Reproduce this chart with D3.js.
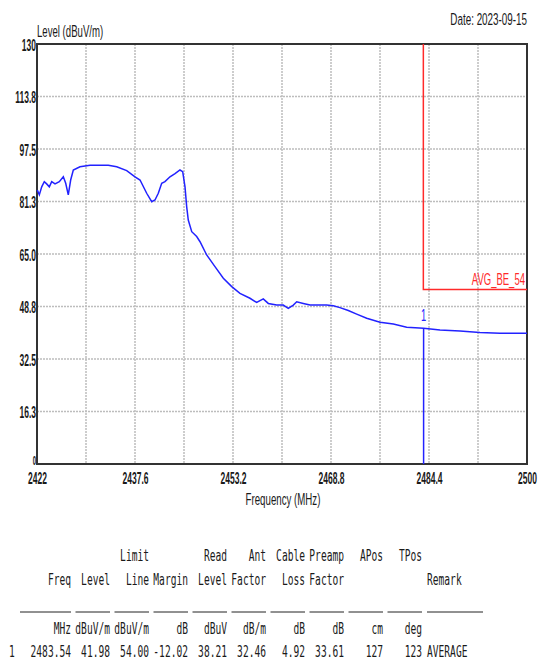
<!DOCTYPE html>
<html lang="en">
<head>
<meta charset="UTF-8">
<title>Level vs Frequency</title>
<script src="https://d3js.org/d3.v7.min.js"></script>
<style>
body { margin: 0; background: #fff; }
svg { display: block; }
.grid line { stroke: #bdbdbd; stroke-width: 1.5; stroke-dasharray: 2,1; }
.axis path, .axis line { display: none; }
.axis text { font-family: "Liberation Sans", Arial, sans-serif; font-weight: bold; font-size: 17px; fill: #1a1a1a; }
.lbl { font-family: "Liberation Sans", Arial, sans-serif; font-size: 17px; fill: #1a1a1a; }
.tbl { font-family: "DejaVu Sans Mono", monospace; font-size: 16px; fill: #1a1a1a; }
</style>
</head>
<body>
<svg width="541" height="664"></svg>
<script>
// trace
const freq = [2422.05, 2422.37, 2422.75, 2423.16, 2423.54, 2423.96, 2424.34, 2424.87, 2425.55, 2426.19,
  2426.57, 2426.98, 2427.36, 2427.78, 2428.84, 2430.44, 2432.03, 2433.35, 2434.69, 2436.28,
  2437.6, 2438.4, 2439.46, 2440.26, 2440.78, 2441.31, 2441.85, 2442.37, 2443.17, 2443.97,
  2444.76, 2445.19, 2445.56, 2445.83, 2446.08, 2446.63, 2447.42, 2447.95, 2449.01, 2450.33,
  2451.66, 2453.0, 2454.31, 2455.9, 2456.97, 2458.02, 2458.82, 2460.15, 2461.2, 2462.0,
  2462.8, 2463.34, 2464.39, 2465.46, 2467.05, 2468.1, 2469.17, 2470.23, 2471.55, 2472.89,
  2474.48, 2476.6, 2478.72, 2480.85, 2483.54, 2486.15, 2489.33, 2492.5, 2495.7, 2500];
const level = [84.8, 83.3, 85.8, 87.4, 86.7, 85.8, 87.4, 86.7, 87.4, 88.9,
  86.9, 83.3, 87.9, 91.0, 92.0, 92.5, 92.5, 92.5, 92.0, 90.8,
  88.9, 87.9, 83.8, 81.2, 81.7, 83.8, 86.9, 87.4, 88.9, 89.9,
  91.0, 90.5, 85.8, 79.6, 75.5, 71.9, 70.4, 68.8, 64.7, 61.1,
  57.5, 54.9, 52.8, 51.3, 50.0, 51.1, 49.7, 49.2, 49.2, 48.2,
  49.2, 50.2, 49.7, 49.2, 49.2, 49.2, 49.0, 48.4, 47.5, 46.4,
  45.1, 43.9, 43.3, 42.3, 41.98, 41.5, 41.2, 40.7, 40.5, 40.5];

// limit line AVG_BE_54
const limitFreq = [2483.5, 2483.5, 2500];
const limitLevel = [130, 54, 54];

const marker = { freq: 2483.54, level: 41.98, label: "1" };

const yTicks = [0, 16.25, 32.5, 48.75, 65, 81.25, 97.5, 113.75, 130];
const yTickLabels = ["0", "16.3", "32.5", "48.8", "65.0", "81.3", "97.5", "113.8", "130"];
const xTicks = [2422, 2437.6, 2453.2, 2468.8, 2484.4, 2500];
const xTickLabels = ["2422", "2437.6", "2453.2", "2468.8", "2484.4", "2500"];

// result table
const head1 = ["", "Limit", "", "Read", "Ant", "Cable", "Preamp", "APos", "TPos"];
const head2 = ["Freq", "Level", "Line", "Margin", "Level", "Factor", "Loss", "Factor", "", ""];
const units = ["MHz", "dBuV/m", "dBuV/m", "dB", "dBuV", "dB/m", "dB", "dB", "cm", "deg"];
const row1 = ["2483.54", "41.98", "54.00", "-12.02", "38.21", "32.46", "4.92", "33.61", "127", "123"];
const remarkHead = "Remark";
const remark1 = "AVERAGE";

const svg = d3.select("svg");
const pl = 37, pr = 527, pt = 44, pb = 464;

const x = d3.scaleLinear().domain([2422, 2500]).range([pl, pr]);
const y = d3.scaleLinear().domain([0, 130]).range([pb, pt]);

// grid
const grid = svg.append("g").attr("class", "grid");
grid.selectAll(".v").data(d3.range(1, 10).map(i => 2422 + i * 7.8)).enter()
  .append("line")
  .attr("x1", d => x(d)).attr("x2", d => x(d))
  .attr("y1", pt).attr("y2", pb);
grid.selectAll(".h").data(yTicks.slice(1, -1)).enter()
  .append("line")
  .attr("x1", pl).attr("x2", pr)
  .attr("y1", d => y(d)).attr("y2", d => y(d));

// axes
const ya = svg.append("g").attr("class", "axis")
  .attr("transform", `translate(${pl},0)`)
  .call(d3.axisLeft(y).tickValues(yTicks).tickFormat((d, i) => yTickLabels[i]).tickSize(0));
ya.selectAll("text").attr("x", 0).attr("dy", "0.36em")
  .attr("transform", "translate(-1,0) scale(0.5,1)");
// the "0" sits low and small, just above the x labels
ya.selectAll("text").filter((d, i) => i === 0)
  .style("font-size", "12px").attr("dy", "0.05em");

const xa = svg.append("g").attr("class", "axis")
  .attr("transform", `translate(0,${pb})`)
  .call(d3.axisBottom(x).tickValues(xTicks).tickFormat((d, i) => xTickLabels[i]).tickSize(0));
xa.selectAll(".tick text").attr("y", 0).attr("dy", "1.15em")
  .attr("transform", "scale(0.5,1)");

// frame
svg.append("rect")
  .attr("x", pl).attr("y", pt)
  .attr("width", pr - pl).attr("height", pb - pt)
  .attr("fill", "none").attr("stroke", "#333").attr("stroke-width", 2);

// limit line
const limitLine = d3.line().x(d => x(d[0])).y(d => y(d[1]));
svg.append("path")
  .datum(limitFreq.map((f, i) => [f, limitLevel[i]]))
  .attr("d", limitLine)
  .attr("fill", "none").attr("stroke", "#ff2a2a").attr("stroke-width", 1.5);
svg.append("text")
  .attr("class", "lbl")
  .attr("transform", `translate(${pr - 2},${y(54) - 5}) scale(0.56,1)`)
  .attr("text-anchor", "end").style("fill", "#ff2a2a")
  .text("AVG_BE_54");

// trace
const line = d3.line().x(d => x(d[0])).y(d => y(d[1]));
svg.append("path")
  .datum(freq.map((f, i) => [f, level[i]]))
  .attr("d", line)
  .attr("fill", "none").attr("stroke", "#2222ff").attr("stroke-width", 1.5);

// marker
svg.append("line")
  .attr("x1", x(marker.freq)).attr("x2", x(marker.freq))
  .attr("y1", y(marker.level)).attr("y2", pb)
  .attr("stroke", "#2222ff").attr("stroke-width", 1.5);
svg.append("text")
  .attr("class", "lbl")
  .attr("transform", `translate(${x(marker.freq)},${y(marker.level) - 7}) scale(0.55,1)`)
  .attr("text-anchor", "middle").style("fill", "#2222ff")
  .text(marker.label);

// titles
svg.append("text").attr("class", "lbl")
  .attr("transform", `translate(${pl},37) scale(0.565,1)`)
  .text("Level (dBuV/m)");
svg.append("text").attr("class", "lbl")
  .attr("transform", `translate(${pr},25) scale(0.58,1)`)
  .attr("text-anchor", "end")
  .text("Date: 2023-09-15");
svg.append("text").attr("class", "lbl")
  .attr("transform", `translate(${(pl + pr) / 2 + 1},505) scale(0.57,1)`)
  .attr("text-anchor", "middle")
  .text("Frequency (MHz)");

// table
const colRight = [71, 110, 149, 188, 227, 266, 305, 344, 383, 422];
const remarkX = 427;
const sx = 0.6;
function cellRow(vals, yy, offset) {
  vals.forEach((v, i) => {
    if (!v) return;
    svg.append("text").attr("class", "tbl")
      .attr("transform", `translate(${colRight[i + offset]},${yy}) scale(${sx},1)`)
      .attr("text-anchor", "end")
      .text(v);
  });
}
cellRow(head1, 561, 1);
cellRow(head2, 585, 0);
cellRow(units, 634, 0);
cellRow(row1, 657, 0);
[[remarkHead, 585], [remark1, 657]].forEach(([t, yy]) => {
  svg.append("text").attr("class", "tbl")
    .attr("transform", `translate(${remarkX},${yy}) scale(${sx},1)`)
    .text(t);
});
svg.append("text").attr("class", "tbl")
  .attr("transform", `translate(9,657) scale(${sx},1)`)
  .text("1");
// underlines
colRight.forEach((r, i) => {
  svg.append("line")
    .attr("x1", i === 0 ? 20 : r - 34.5).attr("x2", r)
    .attr("y1", 612).attr("y2", 612)
    .attr("stroke", "#222").attr("stroke-width", 1);
});
svg.append("line")
  .attr("x1", remarkX).attr("x2", 483)
  .attr("y1", 612).attr("y2", 612)
  .attr("stroke", "#222").attr("stroke-width", 1);
</script>
</body>
</html>
